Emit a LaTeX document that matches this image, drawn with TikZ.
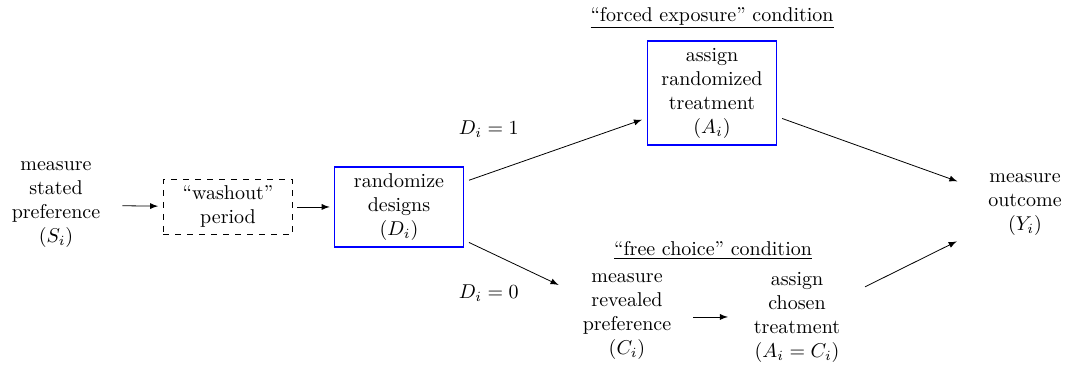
\documentclass[tikz,border=0pt]{standalone}
\usetikzlibrary{arrows}
\begin{document}
\begin{tikzpicture}[>=latex,
	box/.style={draw=blue,thick,align=center,minimum width=2.27cm},
	wbox/.style={draw,dashed,align=center,minimum width=2.27cm},
	txt/.style={align=center}]
	\useasboundingbox (0,0) rectangle (18.75,6.537);
	\node[txt] (s) at (0.984,2.935) {measure\\stated\\preference\\$(S_i)$};
	\node[wbox] (w) at (4.007,2.9) {``washout''\\period};
	\node[box] (r) at (7.012,2.9) {randomize\\designs\\$(D_i)$};
	\node[box] (f) at (12.512,4.903) {assign\\randomized\\treatment\\$(A_i)$};
	\node[txt] (y) at (18.012,2.935) {measure\\outcome\\$(Y_i)$};
	\node[txt] (c) at (11.018,0.967) {measure\\revealed\\preference\\$(C_i)$};
	\node[txt] (a) at (14.006,0.967) {assign\\chosen\\treatment\\$(A_i=C_i)$};
	
	\node (fh) at (12.512,6.22) {\underline{``forced exposure'' condition}};
	\node (ch) at (12.53,2.13) {\underline{``free choice'' condition}};
	\node (d1) at (8.59,4.27) {$D_i=1$};
	\node (d0) at (8.59,1.39) {$D_i=0$};
	
	\draw[every edge/.append style={->}] 	(s) edge[shorten <=7.5pt,shorten >=2.5pt] (w)
	(w) edge[shorten <=2pt,shorten >=2pt] (r)
	(r.21) edge[shorten <=2.5pt,shorten >=2.5pt] (f.-159)
	(r.-27) edge[shorten <=2.5pt,shorten >=9.5pt] (c.155)
	(f.-20) edge[shorten <=2.5pt,shorten >=12.7pt] (y.161)
	(c) edge[shorten <=7.5pt,shorten >=9.5pt] (a)
	(a.23) edge[shorten <=10pt,shorten >=13.7pt] (y.-151);
	\end{tikzpicture}
\end{document}
